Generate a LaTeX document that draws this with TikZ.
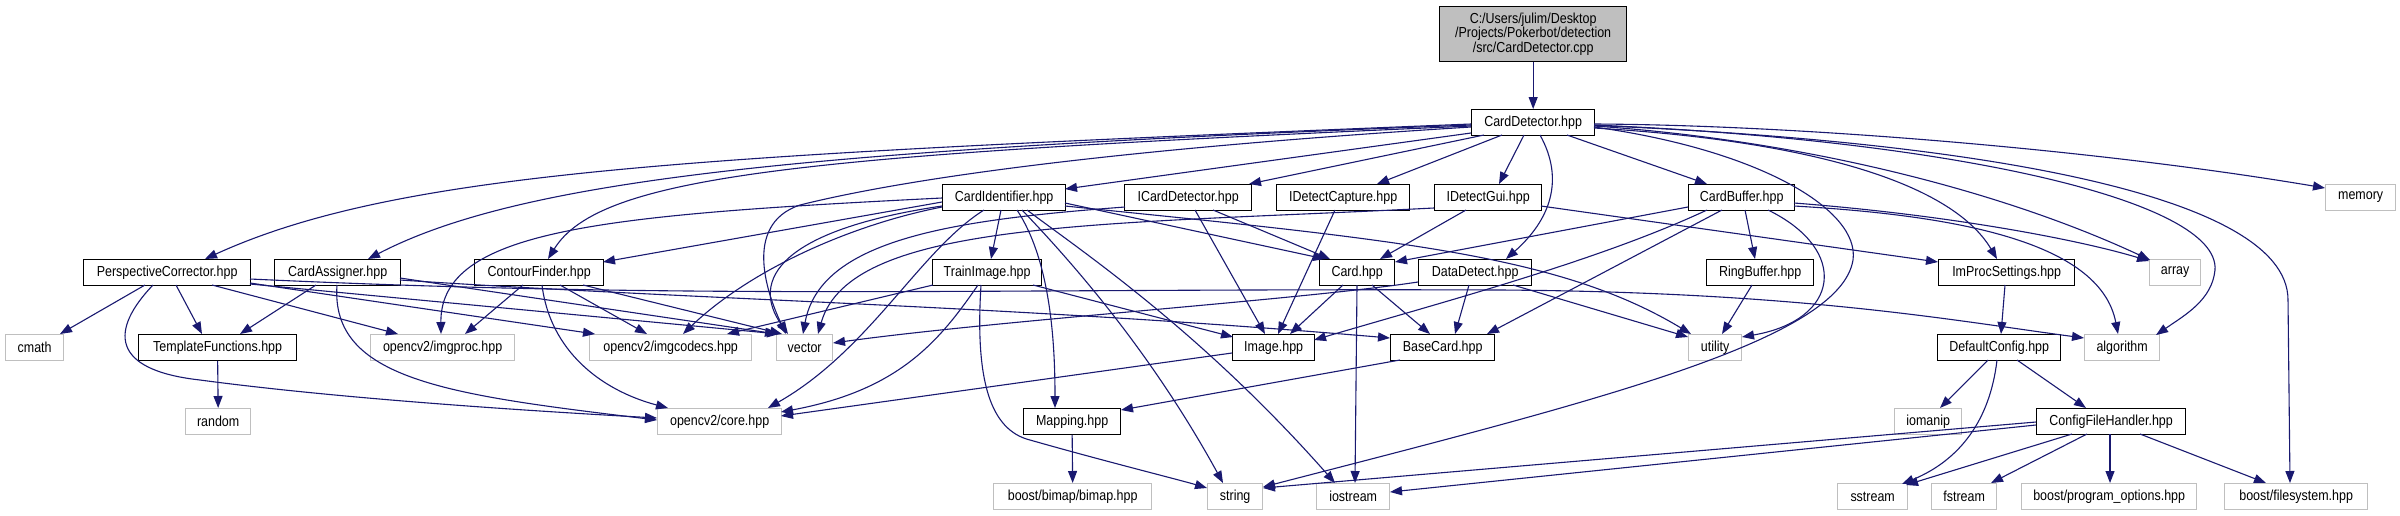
\documentclass[tikz,border=0pt]{standalone}
\usepackage{fontspec}
\setmainfont{Liberation Sans}[FakeStretch=0.86]
\usetikzlibrary{arrows.meta,calc}
\definecolor{edgeblue}{RGB}{25,25,112}
\definecolor{sysgray}{RGB}{191,191,191}
\definecolor{rootfill}{RGB}{191,191,191}
\begin{document}
\begin{tikzpicture}[x=1pt,y=-1pt,
  box/.style={draw, line width=1.3pt, minimum height=25.5pt, inner sep=0pt, anchor=north west,
              font=\fontsize{14.5}{14.5}\selectfont, fill=white},
  doc/.style={box, draw=black},
  sys/.style={box, draw=sysgray},
  dep/.style={draw=edgeblue, line width=1.1pt, -{Triangle[length=12pt,width=9pt]}}]
\useasboundingbox[fill=white] (0,0) rectangle (2400,515);

% ---------- nodes ----------
\node[doc, fill=rootfill, minimum width=187pt, minimum height=55pt, align=center] (cpp) at (1439,6)
  {C:/Users/julim/Desktop\\/Projects/Pokerbot/detection\\/src/CardDetector.cpp};
\node[doc, minimum width=123pt] (hpp) at (1471,109) {CardDetector.hpp};

\node[doc, minimum width=123pt] (CI)  at (942,184)  {CardIdentifier.hpp};
\node[doc, minimum width=127pt] (ICD) at (1124,184) {ICardDetector.hpp};
\node[doc, minimum width=133pt] (IDC) at (1276,184) {IDetectCapture.hpp};
\node[doc, minimum width=107pt] (IDG) at (1434,184) {IDetectGui.hpp};
\node[doc, minimum width=106pt] (CB)  at (1688,184) {CardBuffer.hpp};
\node[sys, minimum width=70pt]  (mem) at (2325,184) {memory};

\node[doc, minimum width=167pt] (PC)   at (83,259)   {PerspectiveCorrector.hpp};
\node[doc, minimum width=126pt] (CA)   at (274,259)  {CardAssigner.hpp};
\node[doc, minimum width=129pt] (CF)   at (474,259)  {ContourFinder.hpp};
\node[doc, minimum width=109pt] (TI)   at (932,259)  {TrainImage.hpp};
\node[doc, minimum width=75pt]  (card) at (1319,259) {Card.hpp};
\node[doc, minimum width=113pt] (DD)   at (1418,259) {DataDetect.hpp};
\node[doc, minimum width=107pt] (RB)   at (1706,259) {RingBuffer.hpp};
\node[doc, minimum width=136pt] (IPS)  at (1938,259) {ImProcSettings.hpp};
\node[sys, minimum width=51pt]  (arr)  at (2149,259) {array};

\node[sys, minimum width=58pt]  (cmath)  at (5,334)    {cmath};
\node[doc, minimum width=158pt] (TF)     at (138,334)  {TemplateFunctions.hpp};
\node[sys, minimum width=144pt] (iproc)  at (370,334)  {opencv2/imgproc.hpp};
\node[sys, minimum width=162pt] (icodec) at (589,334)  {opencv2/imgcodecs.hpp};
\node[sys, minimum width=56pt]  (vec)    at (776,334)  {vector};
\node[doc, minimum width=82pt]  (img)    at (1232,334) {Image.hpp};
\node[doc, minimum width=104pt] (bc)     at (1390,334) {BaseCard.hpp};
\node[sys, minimum width=53pt]  (util)   at (1688,334) {utility};
\node[doc, minimum width=123pt] (DC)     at (1937,334) {DefaultConfig.hpp};
\node[sys, minimum width=75pt]  (alg)    at (2084,334) {algorithm};

\node[sys, minimum width=65pt]  (rnd)   at (185,408)  {random};
\node[sys, minimum width=124pt] (core)  at (657,408)  {opencv2/core.hpp};
\node[doc, minimum width=97pt]  (map)   at (1023,408) {Mapping.hpp};
\node[sys, minimum width=67pt]  (ioman) at (1894,408) {iomanip};
\node[doc, minimum width=149pt] (CFH)   at (2036,408) {ConfigFileHandler.hpp};

\node[sys, minimum width=158pt] (bimap) at (993,483)  {boost/bimap/bimap.hpp};
\node[sys, minimum width=55pt]  (str)   at (1207,483) {string};
\node[sys, minimum width=73pt]  (ios)   at (1316,483) {iostream};
\node[sys, minimum width=70pt]  (sst)   at (1837,483) {sstream};
\node[sys, minimum width=65pt]  (fst)   at (1931,483) {fstream};
\node[sys, minimum width=175pt] (po)    at (2021,483) {boost/program\_options.hpp};
\node[sys, minimum width=143pt] (fs)    at (2224,483) {boost/filesystem.hpp};

% ---------- edges ----------
\draw[dep] (cpp.south) -- (hpp.north);

% CardDetector.hpp
\draw[dep] ($(hpp.north west)+(0,15)$) .. controls (700,155) and (400,170) .. ($(PC.north west)+(122,0)$);
\draw[dep] ($(hpp.north west)+(0,16)$) .. controls (800,150) and (520,180) .. ($(CA.north west)+(94,0)$);
\draw[dep] ($(hpp.north west)+(0,17)$) .. controls (800,155) and (600,175) .. ($(CF.north west)+(74,0)$);
\draw[dep] ($(hpp.north west)+(0,18)$) .. controls (1100,150) and (900,180) .. (800,205)
           .. controls (740,225) and (770,300) .. ($(vec.north west)+(10,0)$);
\draw[dep] ($(hpp.north west)+(0,24)$) -- ($(CI.north west)+(123,5)$);
\draw[dep] ($(hpp.north west)+(13,26)$) -- ($(ICD.north west)+(125,0)$);
\draw[dep] ($(hpp.north west)+(31,26)$) -- ($(IDC.north west)+(101,0)$);
\draw[dep] ($(hpp.north west)+(53,26)$) -- ($(IDG.north west)+(65,0)$);
\draw[dep] ($(hpp.north west)+(69,26)$) .. controls (1565,180) and (1550,220) .. ($(DD.north west)+(88,0)$);
\draw[dep] ($(hpp.north west)+(96,26)$) -- ($(CB.north west)+(19,0)$);
\draw[dep] ($(hpp.north west)+(123,18)$) .. controls (1760,150) and (1860,210) .. (1853,260)
           .. controls (1840,340) and (1600,400) .. ($(str.north west)+(56,4)$);
\draw[dep] ($(hpp.north west)+(123,19)$) .. controls (1800,140) and (1950,180) .. ($(IPS.north west)+(59,0)$);
\draw[dep] ($(hpp.north west)+(123,17)$) .. controls (1800,140) and (2000,190) .. ($(arr.north west)+(1,1)$);
\draw[dep] ($(hpp.north west)+(123,15)$) .. controls (1800,125) and (2100,150) .. ($(mem.north west)+(0,4)$);
\draw[dep] ($(hpp.north west)+(123,16)$) .. controls (1950,140) and (2220,200) .. (2215,270)
           .. controls (2212,300) and (2185,315) .. ($(alg.north west)+(72,1)$);
\draw[dep] ($(hpp.north west)+(123,16.5)$) .. controls (1950,140) and (2288,190) .. (2288,300)
           -- ($(fs.north west)+(66,0)$);

% PerspectiveCorrector.hpp
\draw[dep] ($(PC.north west)+(62,26)$) -- ($(cmath.north west)+(55,0)$);
\draw[dep] ($(PC.north west)+(93,26)$) -- ($(TF.north west)+(64,0)$);
\draw[dep] ($(PC.north west)+(70,26)$) .. controls (110,330) and (110,370) .. (200,380)
           .. controls (350,400) and (550,412) .. ($(core.north west)+(0,10)$);
\draw[dep] ($(PC.north west)+(129,26)$) -- ($(iproc.north west)+(28,0)$);
\draw[dep] ($(PC.north west)+(167,24)$) -- ($(icodec.north west)+(6,0)$);
\draw[dep] ($(PC.north west)+(167,25)$) -- ($(vec.north west)+(3,0)$);
\draw[dep] ($(PC.north west)+(167,20)$) .. controls (700,300) and (1000,288) .. (1500,290)
           .. controls (1800,292) and (1950,320) .. ($(alg.north west)+(0,4)$);

% CardAssigner.hpp
\draw[dep] ($(CA.north west)+(42,26)$) -- ($(TF.north west)+(102,0)$);
\draw[dep] ($(CA.north west)+(63,26)$) .. controls (330,380) and (450,395) .. ($(core.north west)+(0,12)$);
\draw[dep] ($(CA.north west)+(126,19)$) -- ($(vec.north west)+(1,0)$);
\draw[dep] ($(CA.north west)+(126,21)$) .. controls (700,300) and (1000,305) .. ($(bc.north west)+(0,4)$);

% ContourFinder.hpp
\draw[dep] ($(CF.north west)+(49,26)$) -- ($(iproc.north west)+(95,0)$);
\draw[dep] ($(CF.north west)+(86,26)$) -- ($(icodec.north west)+(58,0)$);
\draw[dep] ($(CF.north west)+(68,26)$) .. controls (550,350) and (600,390) .. ($(core.north west)+(11,0)$);
\draw[dep] ($(CF.north west)+(109,26)$) -- ($(vec.north west)+(6,0)$);

% CardIdentifier.hpp
\draw[dep] ($(CI.north west)+(0,18)$) -- ($(CF.north west)+(129,3)$);
\draw[dep] ($(CI.north west)+(0,14)$) .. controls (600,215) and (440,230) .. ($(iproc.north west)+(71,0)$);
\draw[dep] ($(CI.north west)+(0,23)$) .. controls (850,225) and (750,270) .. ($(icodec.north west)+(94,0)$);
\draw[dep] ($(CI.north west)+(0,22)$) .. controls (780,230) and (750,280) .. ($(vec.north west)+(12,0)$);
\draw[dep] ($(CI.north west)+(59,26)$) -- ($(TI.north west)+(59,0)$);
\draw[dep] ($(CI.north west)+(42,26)$) .. controls (920,250) and (870,350) .. ($(core.north west)+(111,0)$);
\draw[dep] ($(CI.north west)+(75,26)$) .. controls (1050,260) and (1055,340) .. ($(map.north west)+(32,0)$);
\draw[dep] ($(CI.north west)+(80,26)$) .. controls (1070,260) and (1150,350) .. ($(str.north west)+(16,0)$);
\draw[dep] ($(CI.north west)+(85,26)$) .. controls (1080,250) and (1200,330) .. ($(ios.north west)+(19,0)$);
\draw[dep] ($(CI.north west)+(123,19)$) -- ($(card.north west)+(6,0)$);
\draw[dep] ($(CI.north west)+(123,22)$) .. controls (1400,240) and (1560,255) .. ($(util.north west)+(3,0)$);

% ICardDetector.hpp, IDetectCapture.hpp, IDetectGui.hpp
\draw[dep] ($(ICD.north west)+(1,23)$) .. controls (950,220) and (820,240) .. ($(vec.north west)+(27,0)$);
\draw[dep] ($(ICD.north west)+(89,26)$) -- ($(card.north west)+(11,0)$);
\draw[dep] ($(ICD.north west)+(71,26)$) -- ($(img.north west)+(33,0)$);
\draw[dep] ($(IDC.north west)+(59,26)$) -- ($(img.north west)+(46,0)$);
\draw[dep] ($(IDG.north west)+(32,26)$) -- ($(card.north west)+(61,0)$);
\draw[dep] ($(IDG.north west)+(107,22)$) -- ($(IPS.north west)+(0,3)$);
\draw[dep] ($(IDG.north west)+(0,24)$) .. controls (1100,225) and (850,220) .. ($(vec.north west)+(42,0)$);

% TrainImage.hpp
\draw[dep] ($(TI.north west)+(1,26)$) -- ($(icodec.north west)+(138,0)$);
\draw[dep] ($(TI.north west)+(46,26)$) .. controls (940,340) and (900,390) .. ($(core.north west)+(124,4)$);
\draw[dep] ($(TI.north west)+(101,26)$) -- ($(img.north west)+(1,3)$);
\draw[dep] ($(TI.north west)+(49,26)$) .. controls (975,380) and (990,430) .. (1030,440)
           .. controls (1100,460) and (1180,480) .. ($(str.north west)+(0,5)$);

% Card.hpp
\draw[dep] ($(card.north west)+(24,26)$) -- ($(img.north west)+(58,0)$);
\draw[dep] ($(card.north west)+(53,26)$) -- ($(bc.north west)+(40,0)$);
\draw[dep] ($(card.north west)+(38,26)$) -- ($(ios.north west)+(39,0)$);

% DataDetect.hpp
\draw[dep] ($(DD.north west)+(0,23)$) .. controls (1300,300) and (1000,320) .. ($(vec.north west)+(57,9)$);
\draw[dep] ($(DD.north west)+(51,26)$) -- ($(bc.north west)+(65,0)$);
\draw[dep] ($(DD.north west)+(95,26)$) -- ($(util.north west)+(0,3)$);

% CardBuffer.hpp
\draw[dep] ($(CB.north west)+(0,23)$) -- ($(card.north west)+(76,3)$);
\draw[dep] ($(CB.north west)+(19,26)$) .. controls (1600,260) and (1450,300) .. ($(img.north west)+(82,6)$);
\draw[dep] ($(CB.north west)+(34,26)$) -- ($(bc.north west)+(97,0)$);
\draw[dep] ($(CB.north west)+(57,26)$) -- ($(RB.north west)+(49,0)$);
\draw[dep] ($(CB.north west)+(80,26)$) .. controls (1850,250) and (1840,320) .. ($(util.north west)+(54,3)$);
\draw[dep] ($(CB.north west)+(106,19)$) .. controls (1950,215) and (2080,240) .. ($(arr.north west)+(0,2)$);
\draw[dep] ($(CB.north west)+(106,22)$) .. controls (1950,215) and (2100,240) .. ($(alg.north west)+(34,0)$);

% RingBuffer, ImProcSettings, DefaultConfig
\draw[dep] ($(RB.north west)+(46,26)$) -- ($(util.north west)+(34,0)$);
\draw[dep] ($(IPS.north west)+(67,26)$) -- ($(DC.north west)+(64,0)$);
\draw[dep] ($(DC.north west)+(51,26)$) -- ($(ioman.north west)+(46,0)$);
\draw[dep] ($(DC.north west)+(60,26)$) .. controls (1990,420) and (1960,460) .. ($(sst.north west)+(65,1)$);
\draw[dep] ($(DC.north west)+(80,26)$) -- ($(CFH.north west)+(50,0)$);

% ConfigFileHandler.hpp
\draw[dep] ($(CFH.north west)+(0,14)$) -- ($(str.north west)+(56,5)$);
\draw[dep] ($(CFH.north west)+(0,17)$) -- ($(ios.north west)+(74,9)$);
\draw[dep] ($(CFH.north west)+(36,26)$) -- ($(sst.north west)+(69,2)$);
\draw[dep] ($(CFH.north west)+(51,26)$) -- ($(fst.north west)+(60,0)$);
\draw[dep] ($(CFH.north west)+(74,26)$) -- ($(po.north west)+(89,0)$);
\draw[dep] ($(CFH.north west)+(104,26)$) -- ($(fs.north west)+(42,0)$);

% Image, BaseCard, Mapping, TemplateFunctions
\draw[dep] ($(img.north west)+(0,19)$) -- ($(core.north west)+(124,8)$);
\draw[dep] ($(bc.north west)+(10,26)$) -- ($(map.north west)+(98,2)$);
\draw[dep] (map.south) -- (bimap.north);
\draw[dep] (TF.south) -- (rnd.north);
\end{tikzpicture}
\end{document}
